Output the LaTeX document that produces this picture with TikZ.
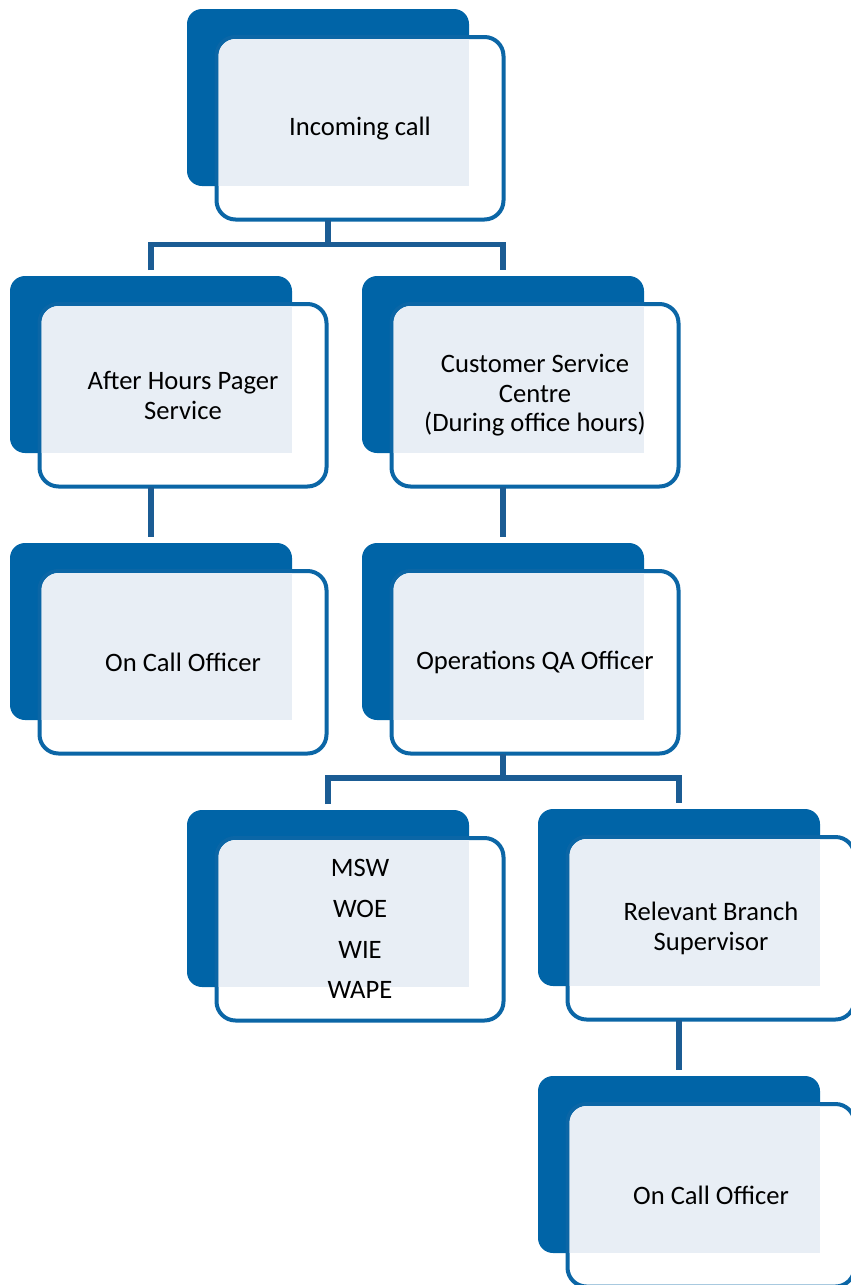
\documentclass[tikz,border=0pt]{standalone}
\usepackage{fontspec}
\setmainfont{Carlito}
\definecolor{backblue}{HTML}{0064A7}
\definecolor{lineblue}{HTML}{1B5C94}
\definecolor{panelfill}{HTML}{E8EEF5}
\definecolor{edgeblue}{HTML}{0B66A6}
\tikzset{
  backbox/.style={fill=backblue, rounded corners=15pt, minimum width=282pt, minimum height=177pt, inner sep=0pt, outer sep=0pt},
  frontbox/.style={draw=edgeblue, line width=4pt, fill=white, rounded corners=19pt, minimum width=287pt, minimum height=182.5pt, inner sep=0pt, outer sep=0pt},
  labeltext/.style={align=center, inner sep=0pt, text=black, font=\fontsize{26.6pt}{29.5pt}\selectfont},
  listtext/.style={font=\fontsize{26.6pt}{40.7pt}\selectfont},
  conn/.style={draw=lineblue, line width=5.5pt, line join=miter},
}
\newcommand\orgunit[5][]{%
  \node[backbox] (#2b) at (#3+141,#4+88.5) {};
  \node[frontbox] (#2w) at (#3+173,#4+119.25) {};
  \begin{scope}
    \clip[rounded corners=17pt] ([shift={(2pt,-2pt)}]#2w.north west) rectangle ([shift={(-2pt,2pt)}]#2w.south east);
    \fill[panelfill] (#2w.north west) rectangle (#2b.south east);
  \end{scope}
  \node[labeltext,#1] (#2t) at (#2w.center) {#5};
}
\begin{document}
\begin{tikzpicture}[x=1pt,y=-1pt]
\useasboundingbox (0,0) rectangle (851,1285);
\clip (0,0) rectangle (851,1285);
\orgunit{u1}{187}{9}{Incoming call}
\orgunit{u2}{10}{276}{After Hours Pager\\Service}
\orgunit{u3}{362}{276}{Customer Service\\Centre\\(During office hours)}
\orgunit{u4}{10}{543}{On Call Officer}
\orgunit{u5}{362}{543}{Operations QA Officer}
\orgunit[listtext]{u6}{187}{810}{MSW\\WOE\\WIE\\WAPE}
\orgunit{u7}{538}{809}{Relevant Branch\\Supervisor}
\orgunit{u8}{538}{1076}{On Call Officer}
% junctions and end points
\path (u1b.south |- u1w.south) ++(0,25) coordinate (j1);
\path (u5b.south |- u5w.south) ++(0,24.5) coordinate (j5);
\path (u2b.north) ++(0,-6) coordinate (e2);
\path (u3b.north) ++(0,-6) coordinate (e3);
\path (u4b.north) ++(0,-6) coordinate (e4);
\path (u5b.north) ++(0,-6) coordinate (e5);
\path (u6b.north) ++(0,-6) coordinate (e6);
\path (u7b.north) ++(0,-6) coordinate (e7);
\path (u8b.north) ++(0,-6) coordinate (e8);
% connectors
\draw[conn] (u1b.south |- u1w.south) -- (j1);
\draw[conn] (e2) |- (j1) -| (e3);
\draw[conn] (u2b.south |- u2w.south) -- (e4);
\draw[conn] (u3b.south |- u3w.south) -- (e5);
\draw[conn] (u5b.south |- u5w.south) -- (j5);
\draw[conn] (e6) |- (j5) -| (e7);
\draw[conn] (u7b.south |- u7w.south) -- (e8);
\end{tikzpicture}
\end{document}
